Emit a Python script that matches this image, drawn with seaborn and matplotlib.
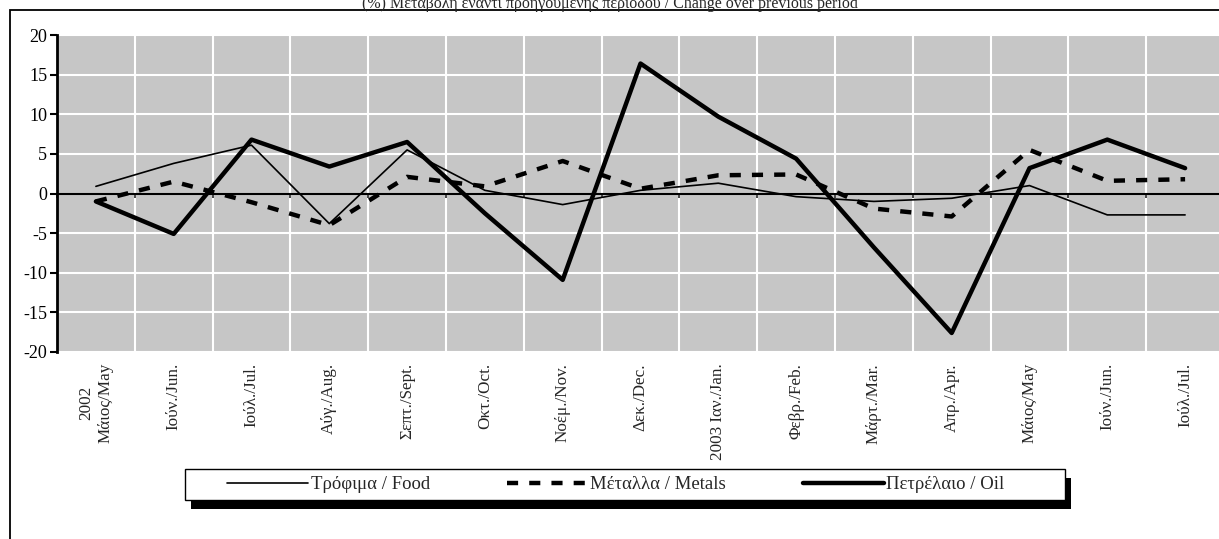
import numpy as np
import pandas as pd
import seaborn as sns
import matplotlib.pyplot as plt
from matplotlib.patches import Rectangle

# data (% change over previous period)
months = ['2002\nΜάιος/May', 'Ιούν./Jun.', 'Ιούλ./Jul.', 'Αύγ./Aug.', 'Σεπτ./Sept.',
          'Οκτ./Oct.', 'Νοέμ./Nov.', 'Δεκ./Dec.', '2003 Ιαν./Jan.', 'Φεβρ./Feb.',
          'Μάρτ./Mar.', 'Απρ./Apr.', 'Μάιος/May', 'Ιούν./Jun.', 'Ιούλ./Jul.']
food = [0.9, 3.8, 6.1, -3.8, 5.5, 0.4, -1.4, 0.4, 1.3, -0.4, -1.0, -0.6, 1.0, -2.7, -2.7]
metals = [-1.0, 1.5, -1.1, -4.0, 2.1, 0.9, 4.1, 0.6, 2.3, 2.4, -1.9, -2.9, 5.5, 1.6, 1.8]
oil = [-1.0, -5.1, 6.8, 3.4, 6.5, -2.5, -10.9, 16.4, 9.7, 4.4, -6.8, -17.6, 3.2, 6.8, 3.2]
series_names = ['Τρόφιμα / Food', 'Μέταλλα / Metals', 'Πετρέλαιο / Oil']
title = '(%) Μεταβολή έναντι προηγούμενης περιόδου / Change over previous period'

df = pd.DataFrame({'pos': np.arange(len(months)), 'food': food,
                   'metals': metals, 'oil': oil})

sns.set_theme(style='white')
plt.rcParams['font.family'] = ['Liberation Serif', 'DejaVu Serif']
plt.rcParams['axes.unicode_minus'] = False

W, H = 1219, 539
fig = plt.figure(figsize=(W / 100, H / 100), dpi=100)
ax = fig.add_axes([57 / W, 1 - 352 / H, 1167 / W, 317 / H])
ax.set_facecolor('#c6c6c6')

sns.lineplot(data=df, x='pos', y='food', ax=ax, color='black', lw=1.2,
             label=series_names[0])
sns.lineplot(data=df, x='pos', y='metals', ax=ax, color='black', lw=3.2,
             linestyle=(0, (2.5, 2.5)), label=series_names[1])
sns.lineplot(data=df, x='pos', y='oil', ax=ax, color='black', lw=3.2,
             label=series_names[2])
handles, labels = ax.get_legend_handles_labels()
ax.get_legend().remove()

# axes styling
ax.set_xlim(-0.5, len(months) - 0.5)
ax.set_ylim(-20, 20)
ax.set_yticks(range(-20, 21, 5))
ax.set_xticks(np.arange(-0.5, len(months), 1))
ax.set_xticklabels([])
ax.set_xlabel('')
ax.set_ylabel('')
for s in ['top', 'right']:
    ax.spines[s].set_visible(False)
ax.spines['bottom'].set_position(('data', 0))
ax.spines['bottom'].set_linewidth(1.5)
ax.spines['bottom'].set_color('black')
ax.spines['left'].set_linewidth(2)
ax.spines['left'].set_color('black')
ax.tick_params(axis='y', left=True, direction='out', length=5, width=1.5,
               labelsize=13, pad=2, colors='black')
ax.tick_params(axis='x', bottom=True, direction='out', length=3, width=1.2)
ax.grid(True, color='white', lw=1.5)
ax.set_axisbelow(True)

# rotated month labels below the plot
for i, m in enumerate(months):
    ax.text(i, -0.035, m, transform=ax.get_xaxis_transform(), rotation=90,
            ha='center', va='top', multialignment='center', fontsize=12.3)

# legend: boxed, with black drop shadow
box = Rectangle((185 / W, 1 - 500 / H), 880 / W, 31 / H, transform=fig.transFigure,
                facecolor='white', edgecolor='black', lw=1.0, zorder=4.5)
shadow = Rectangle((191 / W, 1 - 509 / H), 880 / W, 31 / H, transform=fig.transFigure,
                   facecolor='black', edgecolor='none', zorder=4)
fig.add_artist(shadow)
fig.add_artist(box)
leg = fig.legend(handles, labels, loc='center',
                 bbox_to_anchor=(616 / W, 1 - 484.5 / H),
                 ncol=3, frameon=False, handlelength=4.3, columnspacing=4.1,
                 handletextpad=0.15, fontsize=13.5, borderpad=0, borderaxespad=0)
leg.set_zorder(5)

# outer frame and title
frame = Rectangle((10 / W, -0.1), 2, 1.1 - 10 / H, transform=fig.transFigure,
                  fill=False, edgecolor='black', lw=1.3)
fig.add_artist(frame)
fig.text(0.5, 1 - 8.5 / H, title, ha='center', va='baseline', fontsize=11.5)

fig.savefig('out.png', dpi=100)
